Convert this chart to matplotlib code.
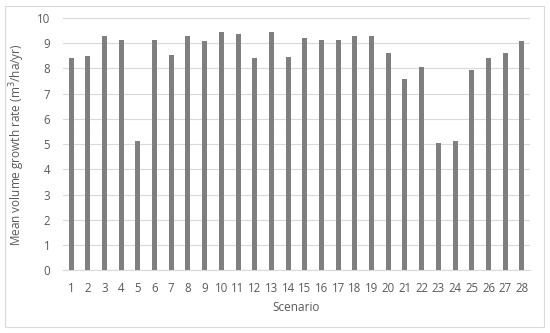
import numpy as np
import matplotlib.pyplot as plt
from matplotlib.patches import Rectangle

scenarios = list(range(1, 29))
growth = [8.40, 8.51, 9.28, 9.12, 5.11, 9.12, 8.52, 9.29, 9.07, 9.44,
          9.35, 8.40, 9.44, 8.46, 9.19, 9.12, 9.11, 9.29, 9.29, 8.62,
          7.60, 8.05, 5.06, 5.11, 7.93, 8.40, 8.62, 9.09]

plt.rcParams['font.family'] = ['Open Sans', 'DejaVu Sans']
text_color = '#595959'

fig = plt.figure(figsize=(5.5, 3.33), dpi=100)
ax = fig.add_axes([0.114, 0.188, 0.850, 0.758])

ax.bar(scenarios, growth, width=0.3, color='#7f7f7f', zorder=3)

ax.set_xlim(0.5, 28.5)
ax.set_ylim(0, 10)
ax.set_yticks(range(0, 11))
ax.set_xticks(scenarios)
ax.grid(axis='y', color='#d9d9d9', linewidth=0.8, zorder=0)
for s in ['top', 'right', 'left']:
    ax.spines[s].set_visible(False)
ax.spines['bottom'].set_color('#d9d9d9')
ax.tick_params(length=0, labelsize=8.3, colors=text_color)
ax.tick_params(axis='x', pad=8)
ax.tick_params(axis='y', pad=9)

ax.set_xlabel('Scenario', fontsize=8.5, color=text_color, labelpad=5)
ax.set_ylabel('Mean volume growth rate (m$^3$/ha/yr)', fontsize=8.5,
              color=text_color, labelpad=7)

# outer chart frame
fig.patches.append(Rectangle((5 / 550, 6 / 333), 539 / 550, 321 / 333,
                             transform=fig.transFigure, fill=False,
                             edgecolor='#d9d9d9', linewidth=0.8))

fig.savefig('out.png', dpi=100)
